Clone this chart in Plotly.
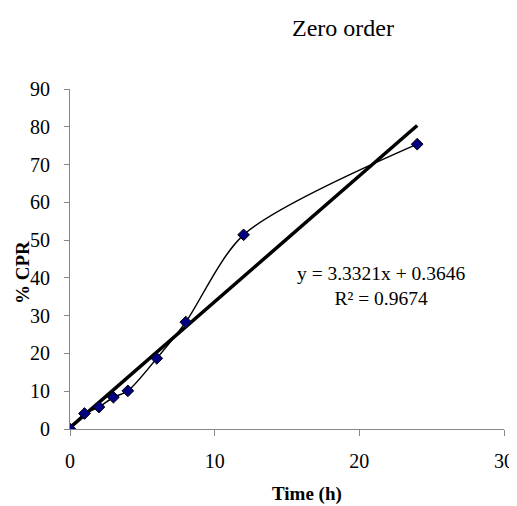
import plotly.graph_objects as go

time_h = [0, 1, 2, 3, 4, 6, 8, 12, 24]
cpr = [0, 4.1, 5.8, 8.4, 10.1, 18.7, 28.3, 51.4, 75.4]
slope = 3.3321
intercept = 0.3646
trend_x = [0, 24]
trend_y = [slope * x + intercept for x in trend_x]
x_ticks = [0, 10, 20, 30]
y_ticks = [0, 10, 20, 30, 40, 50, 60, 70, 80, 90]

font = "Liberation Serif, Times New Roman, serif"
OFF = 8  # default page body margin
W, H = 517 - OFF, 506 - OFF
L, R, T, B = 70 - OFF, 13, 89 - OFF, 77
pw, ph = W - L - R, H - T - B


def px(xp):
    return (xp - OFF - L) / pw


def py(yp):
    return (H - B - (yp - OFF)) / ph


fig = go.Figure()
fig.add_trace(go.Scatter(
    x=trend_x, y=trend_y, mode="lines",
    line=dict(color="black", width=3.5), showlegend=False))
fig.add_trace(go.Scatter(
    x=time_h, y=cpr, mode="lines+markers",
    line=dict(color="black", width=1.5, shape="spline", smoothing=0.8),
    marker=dict(symbol="diamond", size=9, color="#000080",
                line=dict(color="black", width=1)),
    showlegend=False))

fig.add_annotation(x=px(381), y=py(286), xref="paper", yref="paper",
                   xanchor="center", yanchor="middle",
                   text="y = 3.3321x + 0.3646<br>R² = 0.9674", showarrow=False,
                   font=dict(family=font, size=19.5, color="black"), align="center")
fig.add_annotation(x=px(307), y=py(494), xref="paper", yref="paper",
                   xanchor="center", yanchor="middle",
                   text="<b>Time (h)</b>", showarrow=False,
                   font=dict(family=font, size=19, color="black"))
fig.add_annotation(x=px(22), y=py(273), xref="paper", yref="paper",
                   xanchor="center", yanchor="middle",
                   text="<b>% CPR</b>", showarrow=False, textangle=-90,
                   font=dict(family=font, size=19, color="black"))

fig.update_layout(
    width=W, height=H,
    margin=dict(l=L, r=R, t=T, b=B),
    paper_bgcolor="white", plot_bgcolor="white",
    font=dict(family=font, size=20, color="black"),
    title=dict(text="Zero order", x=(343 - OFF) / W, xanchor="center",
               y=1 - (28 - OFF) / H, yanchor="middle",
               font=dict(family=font, size=24, color="black")),
    xaxis=dict(range=[0, 30], tickvals=x_ticks, showgrid=False, zeroline=False,
               showline=True, linecolor="#888888", linewidth=1, automargin=False,
               ticks="outside", ticklen=6, tickcolor="#888888", ticklabelstandoff=8),
    yaxis=dict(range=[0, 90], tickvals=y_ticks, showgrid=False, zeroline=False,
               showline=True, linecolor="#888888", linewidth=1, automargin=False,
               ticks="outside", ticklen=5, tickcolor="#888888", ticklabelstandoff=10),
)

fig.write_html("out.html")
